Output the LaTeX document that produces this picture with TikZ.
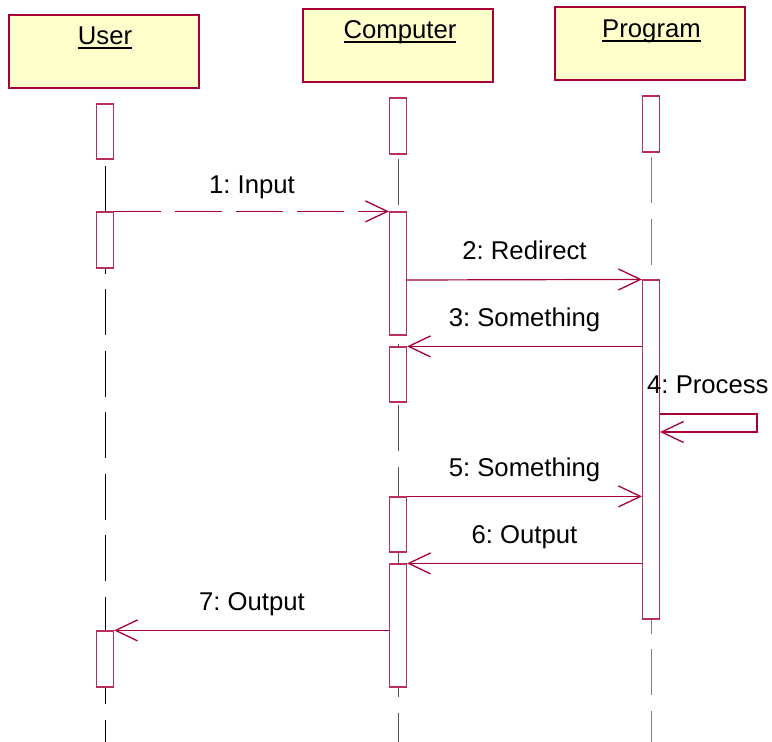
\documentclass[tikz,border=0pt]{standalone}
\usepackage{fontspec}
\setmainfont{Liberation Sans}
\usetikzlibrary{arrows.meta,calc}
\definecolor{crim}{HTML}{A80036}
\definecolor{actb}{HTML}{B8305A}
\definecolor{headfill}{HTML}{FFFFCC}
\newcommand\myul[1]{\setbox0\hbox{#1}\rlap{\rule[-5pt]{\wd0}{1.6pt}}\box0}
\frenchspacing
\begin{document}
\begin{tikzpicture}[x=1pt,y=-1pt,
  every node/.style={font=\fontsize{25.7}{30}\selectfont},
  head/.style={draw=crim,line width=1.2pt,fill=headfill,minimum width=190pt,minimum height=73pt,inner sep=0pt},
  htext/.style={anchor=base,inner sep=0pt},
  act/.style={draw=actb,line width=1.2pt,fill=white,minimum width=17pt,inner sep=0pt},
  lifeline/.style={line width=1pt,dash pattern=on 46pt off 15.5pt,dash phase=#1},
  msg/.style={draw=crim,line width=1.2pt,-{Straight Barb[length=22pt,width=21pt,line width=1.3pt]}},
  lbl/.style={anchor=base,inner sep=0pt}]
\useasboundingbox (0,0) rectangle (772,742);
% header boxes
\node[head] (user) at (104,51.5) {};
\node[head] (comp) at (398,45.5) {};
\node[head] (prog) at (650,43.5) {};
\node[htext] (tuser) at (105,44) {\myul{User}};
\node[htext] (tcomp) at (400,38) {\myul{Computer}};
\node[htext] (tprog) at (651.5,37) {\myul{Program}};
% bottom coordinates for lifelines
\coordinate (ue) at (105,742);
\coordinate (ce) at (398,742);
\coordinate (pe) at (651,742);
% first activations (to anchor lifelines)
\path (105,131.5) coordinate (uAc) (398,126) coordinate (cAc) (651,124) coordinate (pAc);
\coordinate (uAb) at (105,159);
\coordinate (cAb) at (398,154);
\coordinate (pAb) at (651,152);
\draw[lifeline=54.5pt,draw=black] (uAb) -- (ue);
\draw[lifeline=56.5pt,draw=black!68] (cAb) -- (ce);
\draw[lifeline=56.5pt,draw=black!50] (pAb) -- (pe);
% activations
\node[act,minimum height=55pt] (uA) at (uAc) {};
\node[act,minimum height=56pt] (uB) at (105,240) {};
\node[act,minimum height=56pt] (uC) at (105,659) {};
\node[act,minimum height=56pt] (cA) at (cAc) {};
\node[act,minimum height=123pt] (cB) at (398,273.5) {};
\node[act,minimum height=55pt] (cC) at (398,374.5) {};
\node[act,minimum height=55pt] (cD) at (398,524.5) {};
\node[act,minimum height=123pt] (cE) at (398,625.5) {};
\node[act,minimum height=56pt] (pA) at (pAc) {};
\node[act,minimum height=339pt] (pB) at (651,449.5) {};
% self message corners
\coordinate (s1) at (757,414);
\coordinate (s2) at (757,432);
% messages
\draw[msg,dash pattern=on 47pt off 14pt] (uB.north east) -- (cB.north west);
\draw[msg] (cB.east |- 0,280) -- (pB.north west);
\draw[msg] (pB.west |- cC.north) -- (cC.north east);
\draw[msg] (pB.east |- s1) -- (s1) -- (s2) -- (pB.east |- s2);
\draw[msg] (cD.north east) -- (pB.west |- cD.north);
\draw[msg] (pB.west |- cE.north) -- (cE.north east);
\draw[msg] (cE.west |- uC.north) -- (uC.north east);
% labels
\node[lbl] (l1) at (252,193) {1: Input};
\node[lbl] (l2) at (524.5,259) {2: Redirect};
\node[lbl] (l3) at (524.5,326) {3: Something};
\node[lbl,anchor=base west] (l4) at (647,393) {4: Process};
\node[lbl] (l5) at (524.5,476) {5: Something};
\node[lbl] (l6) at (524.5,543) {6: Output};
\node[lbl] (l7) at (252,610) {7: Output};
\end{tikzpicture}
\end{document}
